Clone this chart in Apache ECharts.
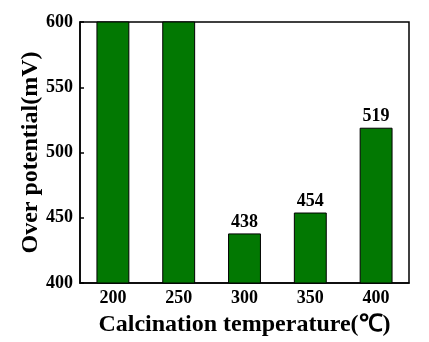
<!DOCTYPE html>
<html><head><meta charset="utf-8">
<script src="https://cdn.jsdelivr.net/npm/echarts@6/dist/echarts.min.js"></script>
<style>html,body{margin:0;padding:0;background:#fff}#c{width:429px;height:342px}</style>
</head><body><div id="c"></div>
<script>
const categories = ['200', '250', '300', '350', '400'];
const overPotential = [650, 650, 438, 454, 519];
const showLabel = [false, false, true, true, true];
const yTicks = [400, 450, 500, 550, 600];

const font = '"Liberation Serif", "Times New Roman", serif';
const chart = echarts.init(document.getElementById('c'));
chart.setOption({
  animation: false,
  grid: { left: 80, right: 20, top: 22, bottom: 59, show: true, borderColor: '#000', borderWidth: 1.5 },
  xAxis: {
    type: 'category', data: categories,
    name: 'Calcination temperature(℃)', nameLocation: 'middle', nameGap: 30,
    nameMoveOverlap: false,
    nameTextStyle: { fontFamily: font, fontWeight: 'bold', fontSize: 24, color: '#000' },
    axisLine: { lineStyle: { color: '#000', width: 1.5 } },
    axisTick: { show: false },
    axisLabel: { fontFamily: font, fontWeight: 'bold', fontSize: 18, color: '#000', margin: 6 }
  },
  yAxis: {
    type: 'value', min: yTicks[0], max: yTicks[yTicks.length - 1], interval: 50,
    name: 'Over potential(mV)', nameLocation: 'middle', nameGap: 37,
    nameMoveOverlap: false,
    nameTextStyle: { fontFamily: font, fontWeight: 'bold', fontSize: 24, color: '#000' },
    axisLine: { show: true, lineStyle: { color: '#000', width: 1.5 } },
    axisTick: { show: true, inside: true, length: 4, lineStyle: { color: '#000', width: 1.5 } },
    splitLine: { show: false },
    axisLabel: { fontFamily: font, fontWeight: 'bold', fontSize: 18, color: '#000', margin: 7 }
  },
  series: [{
    type: 'bar', barWidth: '50%', clip: true,
    data: overPotential.map((v, i) => ({
      value: v,
      label: { show: showLabel[i] }
    })),
    itemStyle: { color: '#027802', borderColor: '#000', borderWidth: 1 },
    label: { position: 'top', distance: 2, fontFamily: font, fontWeight: 'bold', fontSize: 18, color: '#000' }
  }]
});
</script></body></html>
